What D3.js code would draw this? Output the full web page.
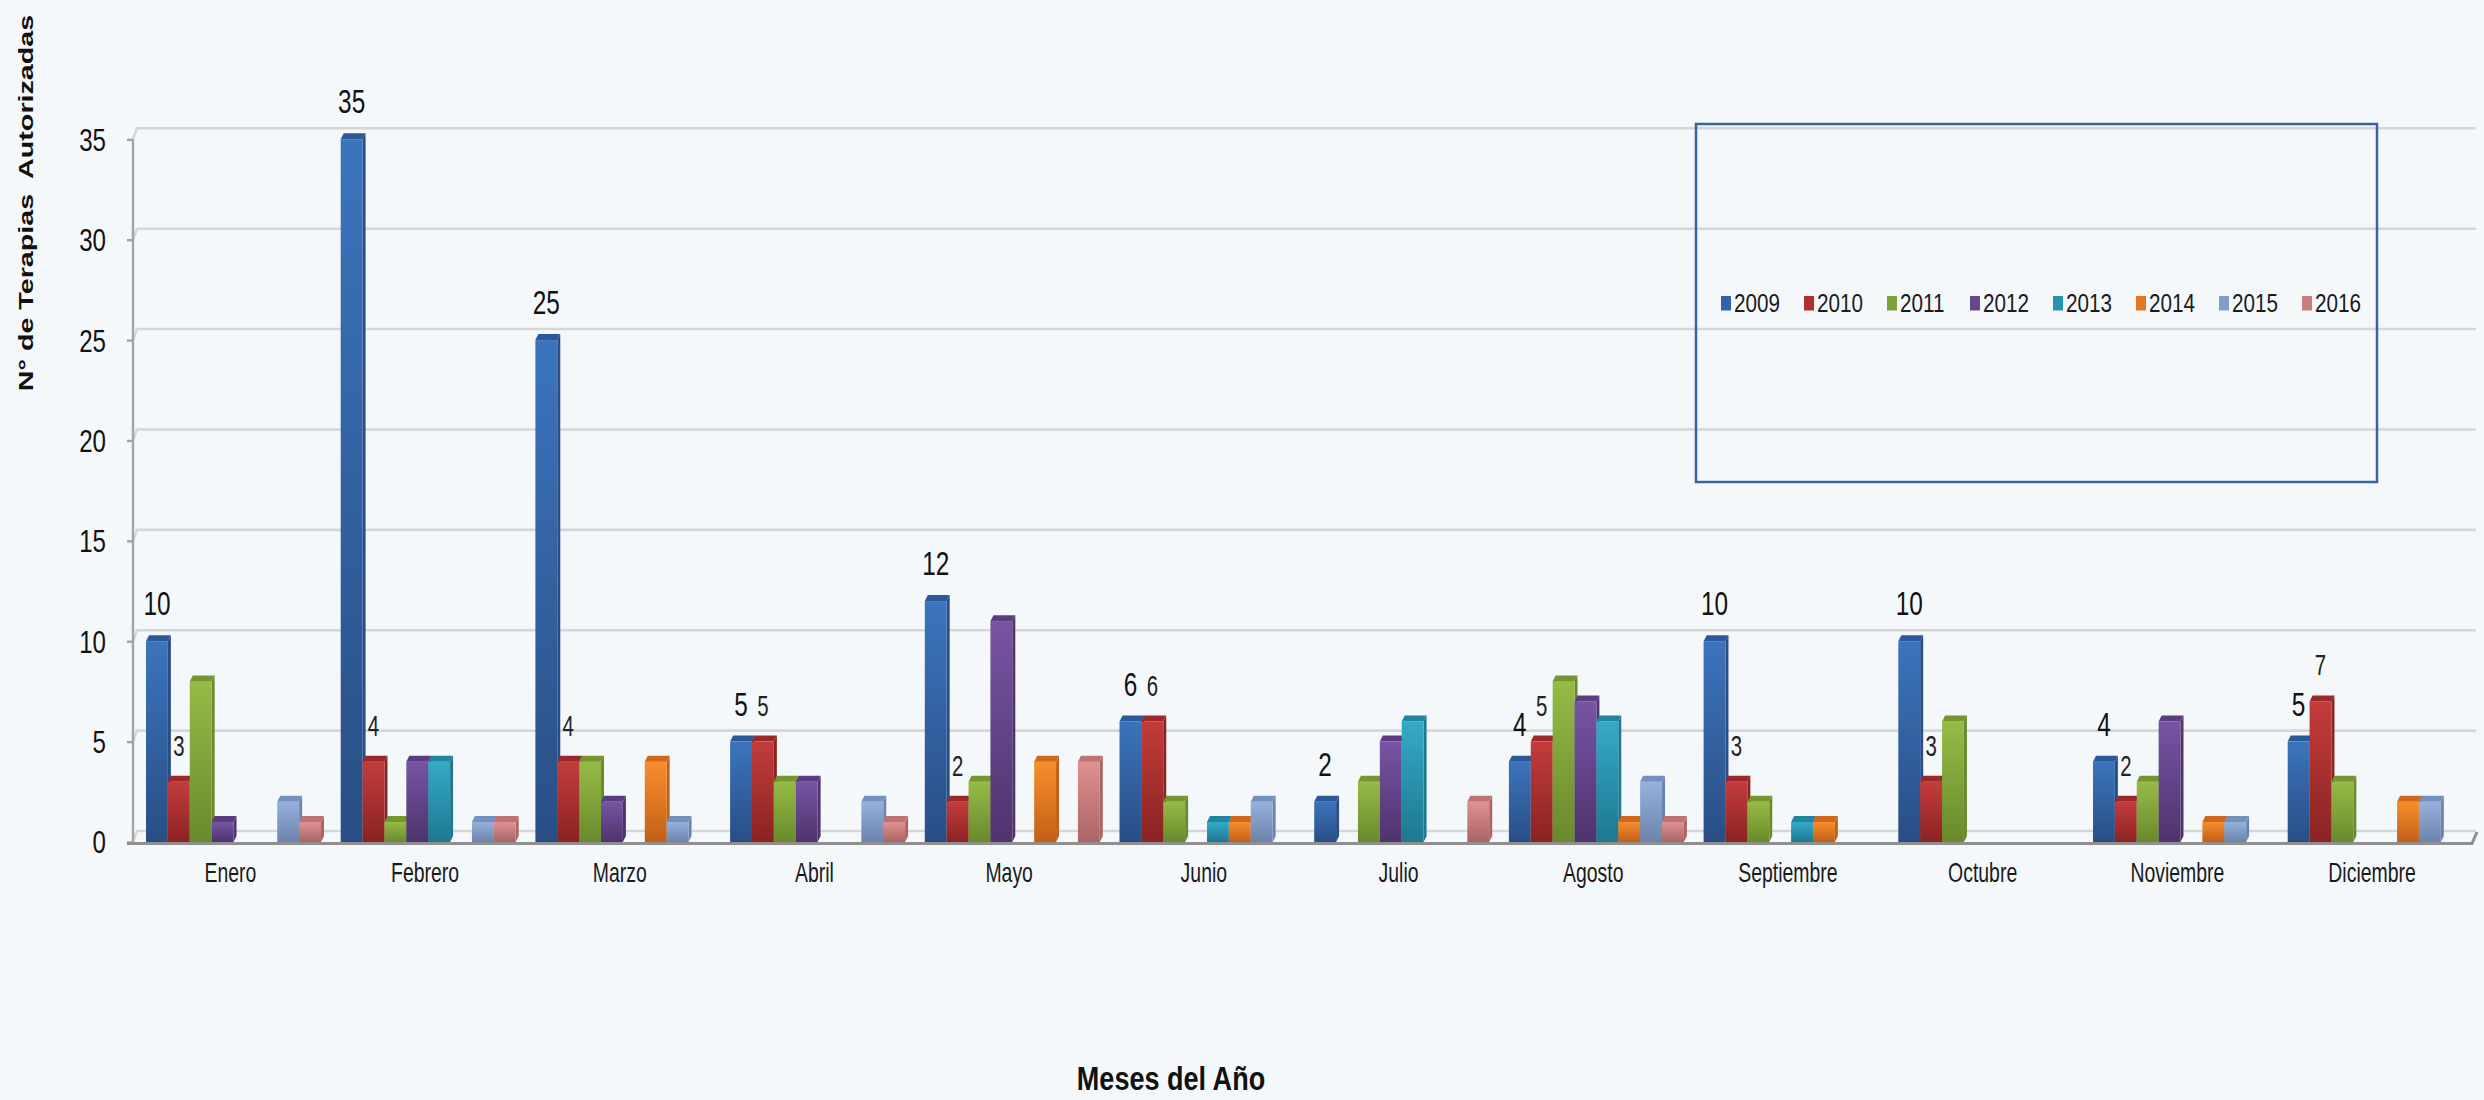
<!DOCTYPE html>
<html><head><meta charset="utf-8">
<script src="https://cdn.jsdelivr.net/npm/d3@7"></script>
<style>
html,body{margin:0;padding:0;background:#f5f8fb;}
svg{display:block;font-family:"Liberation Sans",Arial,sans-serif;}
</style></head>
<body><svg id="chart" width="2484" height="1100"></svg>
<script>
// ---- data ----
const months = ["Enero","Febrero","Marzo","Abril","Mayo","Junio","Julio","Agosto","Septiembre","Octubre","Noviembre","Diciembre"];
const years = ["2009","2010","2011","2012","2013","2014","2015","2016"];
const v2009 = [10,35,25,5,12,6,2,4,10,10,4,5];
const v2010 = [3,4,4,5,2,6,0,5,3,3,2,7];
const v2011 = [8,1,4,3,3,2,3,8,2,6,3,3];
const v2012 = [1,4,2,3,11,0,5,7,0,0,6,0];
const v2013 = [0,4,0,0,0,1,6,6,1,0,0,0];
const v2014 = [0,0,4,0,4,1,0,1,1,0,1,2];
const v2015 = [2,1,1,2,0,2,0,3,0,0,1,2];
const v2016 = [1,1,0,1,4,0,2,1,0,0,0,0];
const yTicks = [0,5,10,15,20,25,30,35];
const labelledYears = ["2009","2010"];
const yTitle = "N° de Terapias  Autorizadas";
const xTitle = "Meses del Año";

const seriesValues = [v2009,v2010,v2011,v2012,v2013,v2014,v2015,v2016];
const colors = {
  "2009":{top:"#3b74bc",bot:"#294e85",cap:"#2b5896",sw:"#2f62a8"},
  "2010":{top:"#c43c3c",bot:"#8a2323",cap:"#9c2929",sw:"#b03030"},
  "2011":{top:"#96bb46",bot:"#688a2c",cap:"#74952f",sw:"#7fa33a"},
  "2012":{top:"#7754a4",bot:"#4f336d",cap:"#5b3c7f",sw:"#66468f"},
  "2013":{top:"#34aac8",bot:"#1e7890",cap:"#22859e",sw:"#2893ae"},
  "2014":{top:"#f68e2d",bot:"#c35f17",cap:"#cf681b",sw:"#e07722"},
  "2015":{top:"#97b1dc",bot:"#6a84ad",cap:"#7390bf",sw:"#819ccb"},
  "2016":{top:"#df9191",bot:"#ab6464",cap:"#bf7272",sw:"#cc7d7d"}
};

const svg = d3.select("#chart");

const x = d3.scaleBand().domain(months).range([136, 2472.4]).padding(0);
const xi = d3.scaleBand().domain(years).range([10, x.bandwidth() - 9.7]).padding(0);
const y = d3.scaleLinear().domain([0, 35]).range([842, 139.3]);
const depthX = 4, depthY = 11;

// gradients
const defs = svg.append("defs");
years.forEach(yr => {
  const g = defs.append("linearGradient").attr("id", "g" + yr)
    .attr("x1", 0).attr("y1", 0).attr("x2", 0).attr("y2", 1);
  g.append("stop").attr("offset", "0%").attr("stop-color", colors[yr].top);
  g.append("stop").attr("offset", "100%").attr("stop-color", colors[yr].bot);
});

// back gridlines with left wall joint
const grid = svg.append("g");
yTicks.forEach(t => {
  const yf = y(t), yb = y(t) - depthY;
  grid.append("path")
    .attr("d", `M133,${yf} L${133 + depthX},${yb} L2476,${yb}`)
    .attr("fill", "none").attr("stroke", "#d6d6d6").attr("stroke-width", 2.6);
});

// y axis
const yAxis = svg.append("g").attr("transform", "translate(133,0)")
  .call(d3.axisLeft(y).tickValues(yTicks).tickSize(6).tickPadding(21).tickFormat(d3.format("d")));
yAxis.select(".domain").attr("stroke", "#a3a3a3").attr("stroke-width", 2.4)
  .attr("d", `M0,${y(35)}V${y(0)}`);
yAxis.selectAll(".tick line").attr("stroke", "#a3a3a3").attr("stroke-width", 2.4);
yAxis.selectAll(".tick text")
  .attr("font-size", 30.5).attr("fill", "#111")
  .attr("font-family", "'Liberation Sans',Arial,sans-serif")
  .each(function() {
    const t = d3.select(this);
    const xx = +t.attr("x");
    t.attr("x", null).attr("dy", "0.36em").attr("text-anchor", "end")
     .attr("transform", `translate(${xx},0) scale(0.79,1)`);
  });

// bars
const groups = svg.append("g").selectAll("g").data(months).join("g")
  .attr("transform", m => `translate(${x(m)},0)`);

years.forEach((yr, si) => {
  const vals = seriesValues[si];
  months.forEach((m, mi) => {
    const v = vals[mi];
    if (!v) return;
    const g = groups.filter(d => d === m);
    const bx = xi(yr), bw = xi.bandwidth();
    const yt = y(v), y0 = y(0);
    g.append("path")
      .attr("d", `M${bx + bw},${yt} L${bx + bw + 3},${yt - 6} L${bx + bw + 3},${y0 - 6} L${bx + bw},${y0} Z`)
      .attr("fill", colors[yr].bot);
    g.append("rect").attr("x", bx).attr("y", yt).attr("width", bw).attr("height", y0 - yt)
      .attr("fill", `url(#g${yr})`);
    g.append("path")
      .attr("d", `M${bx},${yt} L${bx + 3},${yt - 6} L${bx + bw + 3},${yt - 6} L${bx + bw},${yt} Z`)
      .attr("fill", colors[yr].cap);
  });
});

// floor
svg.append("path").attr("d", `M127,843.5 L2472,843.5 L2477,832`)
  .attr("fill", "none").attr("stroke", "#8f8f8f").attr("stroke-width", 3);

// data labels
labelledYears.forEach(yr => {
  const si = years.indexOf(yr);
  const vals = seriesValues[si];
  const big = si === 0;
  months.forEach((m, mi) => {
    const v = vals[mi];
    if (!v) return;
    const cx = x(m) + xi(yr) + xi.bandwidth() / 2;
    svg.append("text")
      .attr("transform", `translate(${cx},${y(v) - 26}) scale(${big ? 0.75 : 0.68},1)`)
      .attr("text-anchor", "middle")
      .attr("font-size", big ? 32.5 : 30)
      .attr("fill", big ? "#111" : "#222")
      .text(v);
  });
});

// month labels
svg.append("g").selectAll("text").data(months).join("text")
  .attr("transform", m => `translate(${x(m) + x.bandwidth() / 2 - 3},882) scale(0.72,1)`)
  .attr("text-anchor", "middle").attr("font-size", 27).attr("fill", "#1a1a1a")
  .text(m => m);

// axis titles
svg.append("text")
  .attr("transform", "translate(33,203) scale(0.73,1) rotate(-90)")
  .attr("text-anchor", "middle").attr("font-size", 28.7).attr("font-weight", "bold")
  .attr("fill", "#111").style("white-space", "pre")
  .text(yTitle);

svg.append("text")
  .attr("transform", "translate(1171,1090) scale(0.82,1)")
  .attr("text-anchor", "middle").attr("font-size", 33).attr("font-weight", "bold")
  .attr("fill", "#111")
  .text(xTitle);

// legend
const leg = svg.append("g");
leg.append("rect").attr("x", 1696).attr("y", 124).attr("width", 681).attr("height", 358)
  .attr("fill", "none").attr("stroke", "#3b62a0").attr("stroke-width", 2.5);
const lx = d3.scalePoint().domain(years).range([1721, 2302]);
years.forEach(yr => {
  leg.append("rect").attr("x", lx(yr)).attr("y", 296).attr("width", 10).attr("height", 14.5)
    .attr("fill", colors[yr].sw);
  leg.append("text")
    .attr("transform", `translate(${lx(yr) + 13},311.5) scale(0.78,1)`)
    .attr("font-size", 26.5).attr("fill", "#1a1a1a")
    .text(yr);
});
</script>
</body></html>
